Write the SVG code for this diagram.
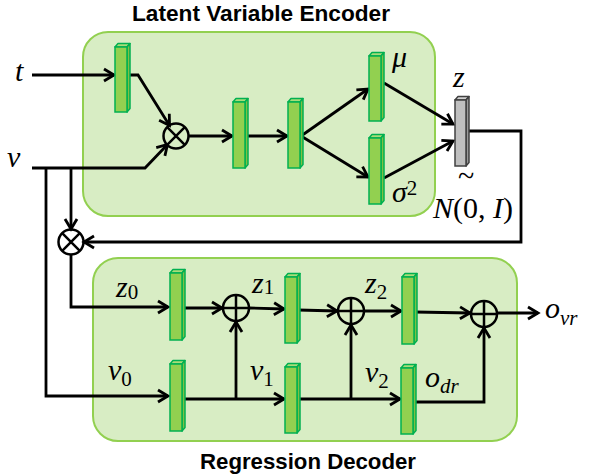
<svg xmlns="http://www.w3.org/2000/svg" width="589" height="476" viewBox="0 0 589 476">
<style>
.box{fill:#D8EDC4;stroke:#92D050;stroke-width:2}
.ln{fill:none;stroke:#000;stroke-width:2.8;stroke-linejoin:miter}
.front{fill:#92D050;stroke:#00B050;stroke-width:1.5}
.top{fill:#A9DC78;stroke:#00B050;stroke-width:1.5;stroke-linejoin:round}
.side{fill:#7FC043;stroke:#00B050;stroke-width:1.5;stroke-linejoin:round}
.gfront{fill:#BFBFBF;stroke:#404040;stroke-width:1.5}
.gtop{fill:#D0D0D0;stroke:#404040;stroke-width:1.5;stroke-linejoin:round}
.gside{fill:#9A9A9A;stroke:#404040;stroke-width:1.5;stroke-linejoin:round}
.op{fill:none;stroke:#000;stroke-width:2.5}
.title{font-family:"Liberation Sans",Arial,sans-serif;font-weight:bold;font-size:22px;fill:#000}
.m{font-family:"Liberation Serif","Times New Roman",serif;font-style:italic;font-size:30px;fill:#000}
.s{font-size:21px}
.u{font-style:normal}
</style>
<defs>
<marker id="ah" viewBox="0 0 12 14" refX="11" refY="7" markerWidth="12" markerHeight="14" markerUnits="userSpaceOnUse" orient="auto" overflow="visible">
<path d="M1,1 L11,7 L1,13" fill="none" stroke="#000" stroke-width="2.8"/>
</marker>
</defs>

<g id="encoder-box"><rect class="box" x="83" y="32" width="352" height="184" rx="25"/></g>
<g id="decoder-box"><rect class="box" x="93" y="258" width="424" height="183" rx="25"/></g>

<text class="title" x="132" y="21" textLength="258" lengthAdjust="spacingAndGlyphs">Latent Variable Encoder</text>
<text class="title" x="200" y="469" textLength="216" lengthAdjust="spacingAndGlyphs">Regression Decoder</text>

<g id="connectors">
<line class="ln" x1="32" y1="75" x2="114" y2="75" marker-end="url(#ah)"/>
<polyline class="ln" points="127,75 138,75 169.5,125.5" marker-end="url(#ah)"/>
<polyline class="ln" points="32,168 145,168 167.5,144.5" marker-end="url(#ah)"/>
<line class="ln" x1="188" y1="136" x2="232" y2="136" marker-end="url(#ah)"/>
<line class="ln" x1="248" y1="136" x2="287" y2="136" marker-end="url(#ah)"/>
<line class="ln" x1="301" y1="136" x2="368" y2="89" marker-end="url(#ah)"/>
<line class="ln" x1="301" y1="136" x2="368" y2="177" marker-end="url(#ah)"/>
<line class="ln" x1="384" y1="83" x2="453" y2="124" marker-end="url(#ah)"/>
<line class="ln" x1="384" y1="178" x2="453" y2="141" marker-end="url(#ah)"/>
<polyline class="ln" points="468,131 521,131 521,242 84,242" marker-end="url(#ah)"/>
<polyline class="ln" points="46,168 46,396 168,396" marker-end="url(#ah)"/>
<line class="ln" x1="71" y1="168" x2="71" y2="229" marker-end="url(#ah)"/>
<polyline class="ln" points="71,254 71,307 168,307" marker-end="url(#ah)"/>
<line class="ln" x1="183" y1="308" x2="222" y2="308" marker-end="url(#ah)"/>
<line class="ln" x1="249" y1="308" x2="284" y2="309" marker-end="url(#ah)"/>
<line class="ln" x1="298" y1="310" x2="337" y2="311" marker-end="url(#ah)"/>
<line class="ln" x1="364" y1="311" x2="401" y2="311" marker-end="url(#ah)"/>
<line class="ln" x1="415" y1="312" x2="470" y2="313" marker-end="url(#ah)"/>
<line class="ln" x1="497" y1="313" x2="538" y2="313" marker-end="url(#ah)"/>
<line class="ln" x1="183" y1="399" x2="284" y2="399" marker-end="url(#ah)"/>
<line class="ln" x1="236" y1="399" x2="236" y2="322" marker-end="url(#ah)"/>
<line class="ln" x1="298" y1="399" x2="400" y2="399" marker-end="url(#ah)"/>
<line class="ln" x1="351" y1="399" x2="351" y2="325" marker-end="url(#ah)"/>
<polyline class="ln" points="414,402 484,402 484,328" marker-end="url(#ah)"/>
</g>

<g id="mult-enc"><circle class="op" cx="176" cy="136" r="12.5"/><path class="op" d="M167.2,127.2 L184.8,144.8 M184.8,127.2 L167.2,144.8"/></g>
<g id="mult-dec"><circle class="op" cx="71" cy="242" r="12.5"/><path class="op" d="M62.2,233.2 L79.8,250.8 M79.8,233.2 L62.2,250.8"/></g>
<g id="add1"><circle class="op" cx="236" cy="308" r="13"/><path class="op" d="M223,308 H249 M236,295 V321"/></g>
<g id="add2"><circle class="op" cx="351" cy="311" r="13"/><path class="op" d="M338,311 H364 M351,298 V324"/></g>
<g id="add3"><circle class="op" cx="484" cy="314" r="13"/><path class="op" d="M471,314 H497 M484,301 V327"/></g>

<g id="bar-t"><polygon class="top" points="115,47 118,43.5 130,43.5 127,47"/><polygon class="side" points="127,47 130,43.5 130,108.5 127,112"/><rect class="front" x="115" y="47" width="12" height="65"/></g>
<g id="bar-e2"><polygon class="top" points="233,102 236,98.5 248,98.5 245,102"/><polygon class="side" points="245,102 248,98.5 248,164.5 245,168"/><rect class="front" x="233" y="102" width="12" height="66"/></g>
<g id="bar-e3"><polygon class="top" points="288,102 291,98.5 303,98.5 300,102"/><polygon class="side" points="300,102 303,98.5 303,164.5 300,168"/><rect class="front" x="288" y="102" width="12" height="66"/></g>
<g id="bar-mu"><polygon class="top" points="369,56 372,52.5 384,52.5 381,56"/><polygon class="side" points="381,56 384,52.5 384,117.5 381,121"/><rect class="front" x="369" y="56" width="12" height="65"/></g>
<g id="bar-sigma"><polygon class="top" points="369,138 372,134.5 384,134.5 381,138"/><polygon class="side" points="381,138 384,134.5 384,200.5 381,204"/><rect class="front" x="369" y="138" width="12" height="66"/></g>
<g id="bar-z"><polygon class="gtop" points="455,100 458,96.5 469,96.5 466,100"/><polygon class="gside" points="466,100 469,96.5 469,162.5 466,166"/><rect class="gfront" x="455" y="100" width="11" height="66"/></g>
<g id="bar-z0"><polygon class="top" points="170,273 173,269.5 185,269.5 182,273"/><polygon class="side" points="182,273 185,269.5 185,336.5 182,340"/><rect class="front" x="170" y="273" width="12" height="67"/></g>
<g id="bar-v0"><polygon class="top" points="170,364 173,360.5 185,360.5 182,364"/><polygon class="side" points="182,364 185,360.5 185,427.5 182,431"/><rect class="front" x="170" y="364" width="12" height="67"/></g>
<g id="bar-z1"><polygon class="top" points="285,277 288,273.5 300,273.5 297,277"/><polygon class="side" points="297,277 300,273.5 300,339.5 297,343"/><rect class="front" x="285" y="277" width="12" height="66"/></g>
<g id="bar-v1"><polygon class="top" points="285,367 288,363.5 300,363.5 297,367"/><polygon class="side" points="297,367 300,363.5 300,429.5 297,433"/><rect class="front" x="285" y="367" width="12" height="66"/></g>
<g id="bar-z2"><polygon class="top" points="402,277 405,273.5 417,273.5 414,277"/><polygon class="side" points="414,277 417,273.5 417,340.5 414,344"/><rect class="front" x="402" y="277" width="12" height="67"/></g>
<g id="bar-odr"><polygon class="top" points="401,368 404,364.5 416,364.5 413,368"/><polygon class="side" points="413,368 416,364.5 416,430.5 413,434"/><rect class="front" x="401" y="368" width="12" height="66"/></g>

<g id="labels">
<text class="m" x="15" y="81" font-size="31">t</text>
<text class="m" x="7" y="167" font-size="31">v</text>
<text class="m" x="392" y="67">μ</text>
<text class="m" x="453" y="87">z</text>
<text class="m" x="392" y="202">σ<tspan class="s u" dy="-7">2</tspan></text>
<text class="m u" x="458" y="186" font-size="16">~</text>
<text class="m" x="433" y="218" font-size="25">N<tspan class="u">(0, </tspan>I<tspan class="u">)</tspan></text>
<text class="m" x="116" y="297">z<tspan class="s u" dy="2">0</tspan></text>
<text class="m" x="252" y="293">z<tspan class="s u" dy="1">1</tspan></text>
<text class="m" x="365" y="293">z<tspan class="s u" dy="6">2</tspan></text>
<text class="m" x="108" y="380">v<tspan class="s u" dy="6">0</tspan></text>
<text class="m" x="250" y="380">v<tspan class="s u" dy="6">1</tspan></text>
<text class="m" x="365" y="382">v<tspan class="s u" dy="6">2</tspan></text>
<text class="m" x="425" y="387">o<tspan class="s" dy="6">dr</tspan></text>
<text class="m" x="545" y="318">o<tspan class="s" dy="7">vr</tspan></text>
</g>
</svg>
